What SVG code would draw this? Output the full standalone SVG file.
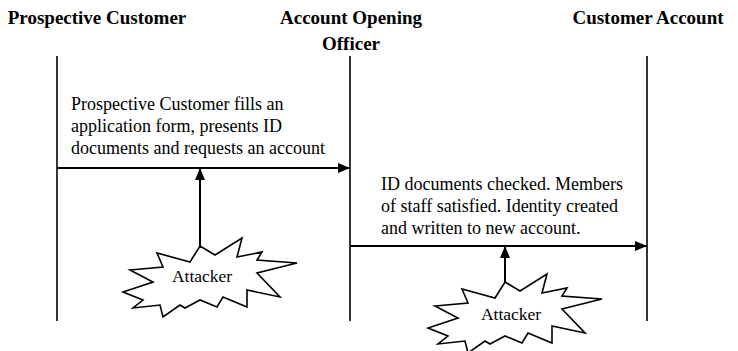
<svg xmlns="http://www.w3.org/2000/svg" width="738" height="351" viewBox="0 0 738 351">
<style>
.lane-title{font-family:'Liberation Serif','Times New Roman',serif;font-weight:bold;font-size:19px;fill:#000;text-anchor:middle}
.note-text{font-family:'Liberation Serif','Times New Roman',serif;font-size:18px;fill:#000}
.atk{font-family:'Liberation Serif','Times New Roman',serif;font-size:17.5px;fill:#000;text-anchor:middle}
.life{stroke:#000;stroke-width:1.6;fill:none}
.arr{stroke:#000;stroke-width:2;fill:none;marker-end:url(#ah)}
.burst{fill:#fff;stroke:#000;stroke-width:1.6;stroke-linejoin:miter}
</style>
<defs>
<marker id="ah" viewBox="0 0 12 10" refX="12" refY="5" markerWidth="12" markerHeight="10" markerUnits="userSpaceOnUse" orient="auto">
<path d="M0,0 L12,5 L0,10 Z" fill="#000"/>
</marker>
<polygon id="star" points="0,0 15,9 42,-8 37,11 62,6 57,14 97,17 57,27 80,51 47,44 47,61 23,51 17,61 0,54 -15,62 -20,59 -37,71 -40,59 -67,62 -57,54 -77,46 -47,36 -70,24 -37,21 -43,7 -10,16"/>
</defs>
<rect width="738" height="351" fill="#fff"/>
<g id="prospective-customer">
<text class="lane-title" x="97" y="24">Prospective Customer</text>
<line class="life" x1="57" y1="56" x2="57" y2="321"/>
</g>
<g id="account-opening-officer">
<text class="lane-title" x="351" y="24">Account Opening</text>
<text class="lane-title" x="351" y="50">Officer</text>
<line class="life" x1="350" y1="56" x2="350" y2="321"/>
</g>
<g id="customer-account">
<text class="lane-title" x="648" y="24">Customer Account</text>
<line class="life" x1="647" y1="56" x2="647" y2="321"/>
</g>
<g id="attacker-1">
<use href="#star" class="burst" transform="translate(200,246)"/>
<text class="atk" x="202" y="282">Attacker</text>
</g>
<g id="attacker-2">
<use href="#star" class="burst" transform="translate(505,282)"/>
<text class="atk" x="511" y="320">Attacker</text>
</g>
<g id="connectors">
<line class="arr" x1="57" y1="168" x2="350" y2="168"/>
<line class="arr" x1="350" y1="246" x2="647" y2="246"/>
<line class="arr" x1="200" y1="246" x2="200" y2="168"/>
<line class="arr" x1="505" y1="282" x2="505" y2="246"/>
</g>
<g id="labels">
<text class="note-text" x="71" y="110">Prospective Customer fills an</text>
<text class="note-text" x="71" y="132">application form, presents ID</text>
<text class="note-text" x="71" y="154">documents and requests an account</text>
<text class="note-text" x="381" y="190">ID documents checked. Members</text>
<text class="note-text" x="381" y="212">of staff satisfied. Identity created</text>
<text class="note-text" x="381" y="234">and written to new account.</text>
</g>
</svg>
